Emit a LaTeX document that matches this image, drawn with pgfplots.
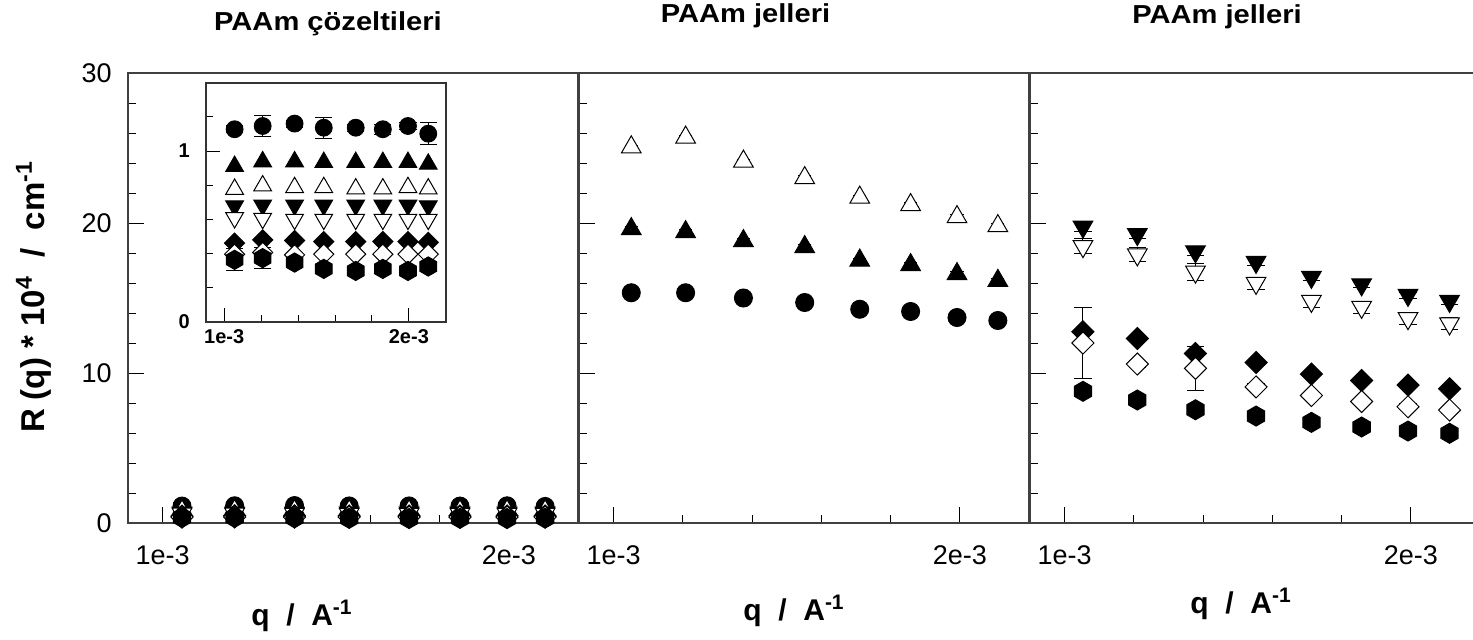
\documentclass[border=0pt]{standalone}
\usepackage{pgfplots}
\pgfplotsset{compat=1.18}
\usepackage{pgfplotstable}
\usepackage{fontspec}
\setmainfont{Liberation Sans}
\newfontfamily\widesans{Liberation Sans}[FakeStretch=1.12]
\usetikzlibrary{plotmarks}

% filled hexagon, point up
\pgfdeclareplotmark{hexagon*}{%
  \pgfpathmoveto{\pgfqpointpolar{90}{\pgfplotmarksize}}%
  \pgfpathlineto{\pgfqpointpolar{150}{\pgfplotmarksize}}%
  \pgfpathlineto{\pgfqpointpolar{210}{\pgfplotmarksize}}%
  \pgfpathlineto{\pgfqpointpolar{270}{\pgfplotmarksize}}%
  \pgfpathlineto{\pgfqpointpolar{330}{\pgfplotmarksize}}%
  \pgfpathlineto{\pgfqpointpolar{30}{\pgfplotmarksize}}%
  \pgfpathclose
  \pgfusepathqfillstroke}

% solutions (panel 1 and inset), q in 1e-3 A^-1
\pgfplotstableread{
q     ci    cie   tu    to    td    tdo   df    do    hx    hxe
1.056 1.128 0.02  0.911 0.777 0.678 0.609 0.461 0.396 0.363 0.064
1.208 1.147 0.06  0.938 0.797 0.683 0.605 0.480 0.406 0.373 0.062
1.381 1.161 0.02  0.938 0.787 0.683 0.600 0.476 0.392 0.347 0.02
1.539 1.137 0.061 0.934 0.787 0.683 0.600 0.470 0.396 0.310 0.02
1.712 1.137 0.02  0.934 0.779 0.683 0.600 0.470 0.396 0.298 0.02
1.859 1.128 0.03  0.934 0.779 0.683 0.600 0.470 0.396 0.310 0.02
1.995 1.147 0.02  0.934 0.787 0.683 0.600 0.470 0.396 0.298 0.02
2.105 1.102 0.066 0.924 0.779 0.678 0.600 0.465 0.396 0.324 0.02
}\sol

% gels, middle panel
\pgfplotstableread{
q     ci    tu    tue   to    toe
1.051 15.35 19.60 0.15  25.05 0.15
1.208 15.35 19.40 0.15  25.70 0.15
1.375 15.00 18.80 0.15  24.10 0.15
1.552 14.70 18.40 0.15  23.00 0.15
1.711 14.25 17.50 0.15  21.70 0.15
1.858 14.10 17.20 0.15  21.20 0.15
1.992 13.70 16.60 0.15  20.40 0.15
2.110 13.50 16.15 0.15  19.80 0.15
}\gelA

% gels, right panel
\pgfplotstableread{
q     td    tde  tdo   tdoe df    do    doe  hx
1.053 19.75 0.30 18.45 0.50 12.75 12.00 2.38 8.78
1.210 19.25 0.30 17.90 0.45 12.30 10.60 0.20 8.20
1.378 18.10 0.25 16.75 0.55 11.30 10.31 1.49 7.55
1.553 17.40 0.25 16.00 0.40 10.70  9.07 0.20 7.13
1.713 16.40 0.20 14.80 0.40  9.93  8.50 0.20 6.71
1.858 15.90 0.20 14.40 0.40  9.50  8.10 0.20 6.40
1.992 15.20 0.20 13.65 0.40  9.20  7.75 0.20 6.13
2.112 14.80 0.20 13.30 0.40  8.95  7.53 0.20 5.98
}\gelB

\pgfplotsset{
  panel/.style={
    scale only axis, width=225pt, height=225pt,
    xmin=0.9, xmax=2.2, ymin=0, ymax=30,
    xtick={1,2}, xticklabels={1e-3,2e-3},
    minor xtick={1.2,1.4,1.6,1.8},
    ytick={0,10,20,30},
    minor ytick={2,4,6,8,12,14,16,18,22,24,26,28},
    xtick pos=bottom, ytick pos=left, tick align=inside,
    major tick length=8pt, minor tick length=4pt,
    axis line style={black!75, line width=0.8pt},
    tick style={black, line width=0.5pt},
    /pgf/number format/assume math mode=true,
    tick label style={font=\fontsize{13.5}{15}\selectfont},
    yticklabel style={anchor=east, inner sep=0pt, xshift=-8pt},
    xticklabel style={anchor=north, inner sep=0pt, yshift=-11pt},
  },
  pt/.style={only marks, black, line width=0.5pt},
  eb/.style={error bars/.cd, y dir=both, y explicit,
    error bar style={black, line width=0.5pt},
    error mark options={rotate=90, mark size=4.3pt, black, line width=0.5pt}},
  circ/.style={pt, mark=*, mark size=4.5pt},
  tup/.style={pt, mark=triangle*, mark size=5.7pt},
  tupo/.style={tup, mark options={fill=white}},
  tdn/.style={pt, mark=triangle*, mark size=5.7pt, mark options={rotate=180}},
  tdno/.style={pt, mark=triangle*, mark size=5.7pt, mark options={rotate=180, fill=white}},
  dia/.style={pt, mark=square*, mark size=3.9pt, mark options={rotate=45}},
  diao/.style={pt, mark=square*, mark size=3.9pt, mark options={rotate=45, fill=white}},
  hex/.style={pt, mark=hexagon*, mark size=5pt},
}

\begin{document}
\begin{tikzpicture}
\useasboundingbox (0,0) rectangle (736.5pt,319.5pt);
\clip (0,0) rectangle (736.5pt,319.5pt);

% panel 1: solutions
\begin{axis}[panel, at={(64pt,58pt)}, anchor=south west]
  \addplot[circ] table[x=q, y=ci] {\sol};
  \addplot[tup] table[x=q, y=tu] {\sol};
  \addplot[tupo] table[x=q, y=to] {\sol};
  \addplot[tdn] table[x=q, y=td] {\sol};
  \addplot[tdno] table[x=q, y=tdo] {\sol};
  \addplot[dia] table[x=q, y=df] {\sol};
  \addplot[diao] table[x=q, y=do] {\sol};
  \addplot[hex] table[x=q, y=hx] {\sol};
\end{axis}

% panel 2
\begin{axis}[panel, at={(289.5pt,58pt)}, anchor=south west, yticklabels={}]
  \addplot[circ] table[x=q, y=ci] {\gelA};
  \addplot[tup, eb, error mark options={rotate=90, mark size=3.3pt, black, line width=0.5pt}] table[x=q, y=tu, y error=tue] {\gelA};
  \addplot[tupo, eb, error mark options={rotate=90, mark size=3.3pt, black, line width=0.5pt}] table[x=q, y=to, y error=toe] {\gelA};
\end{axis}

% panel 3
\begin{axis}[panel, at={(515pt,58pt)}, anchor=south west, yticklabels={}]
  \addplot[tdn, eb] table[x=q, y=td, y error=tde] {\gelB};
  \addplot[tdno, eb] table[x=q, y=tdo, y error=tdoe] {\gelB};
  \addplot[dia] table[x=q, y=df] {\gelB};
  \addplot[diao, eb] table[x=q, y=do, y error=doe] {\gelB};
  \addplot[hex] table[x=q, y=hx] {\gelB};
\end{axis}

% inset
\begin{axis}[scale only axis, width=120pt, height=119.5pt,
    at={(102.9pt,158.6pt)}, anchor=south west,
    axis background/.style={fill=white},
    xmin=0.9, xmax=2.2, ymin=0, ymax=1.4,
    xtick={1,2}, xticklabels={1e-3,2e-3}, minor xtick={1.2,1.4,1.6,1.8},
    ytick={0,1}, minor ytick={0.2,0.4,0.6,0.8,1.2},
    xtick pos=bottom, ytick pos=left, tick align=inside,
    major tick length=7pt, minor tick length=3.5pt,
    axis line style={black!80, line width=0.7pt},
    tick style={black, line width=0.5pt},
    /pgf/number format/assume math mode=true,
    tick label style={font=\bfseries\fontsize{10}{11}\selectfont},
    yticklabel style={anchor=east, inner sep=0pt, xshift=-7.8pt},
    xticklabel style={anchor=north, inner sep=0pt, yshift=-3.5pt}]
  \addplot[circ, mark size=4.2pt, eb] table[x=q, y=ci, y error=cie] {\sol};
  \addplot[tup, mark size=5.1pt] table[x=q, y=tu] {\sol};
  \addplot[tupo, mark size=5.1pt] table[x=q, y=to] {\sol};
  \addplot[tdn, mark size=5.1pt] table[x=q, y=td] {\sol};
  \addplot[tdno, mark size=5.1pt] table[x=q, y=tdo] {\sol};
  \addplot[dia, mark size=3.55pt] table[x=q, y=df] {\sol};
  \addplot[diao, mark size=3.55pt] table[x=q, y=do] {\sol};
  \addplot[hex, mark size=4.8pt, eb] table[x=q, y=hx, y error=hxe] {\sol};
\end{axis}

% titles and labels
\begin{scope}[every node/.style={font=\widesans\bfseries\fontsize{13}{15}\selectfont, anchor=base, inner sep=0pt}]
  \node at (164pt,304pt) {PAAm çözeltileri};
  \node at (372.75pt,308pt) {PAAm jelleri};
  \node at (608.5pt,307.5pt) {PAAm jelleri};
\end{scope}
\begin{scope}[every node/.style={font=\bfseries\fontsize{15}{18}\selectfont, anchor=base, inner sep=0pt}]
  \node at (151pt,7pt) {q\ \ /\ \ A\textsuperscript{-1}};
  \node at (397pt,9.5pt) {q\ \ /\ \ A\textsuperscript{-1}};
  \node at (620.5pt,13pt) {q\ \ /\ \ A\textsuperscript{-1}};
\end{scope}
\node[rotate=90, inner sep=0pt, font=\bfseries\fontsize{16.5}{19}\selectfont]
  at (16.75pt,171pt) {R (q) * 10\textsuperscript{4}\ \ /\ \ cm\textsuperscript{-1}};
\end{tikzpicture}
\end{document}
